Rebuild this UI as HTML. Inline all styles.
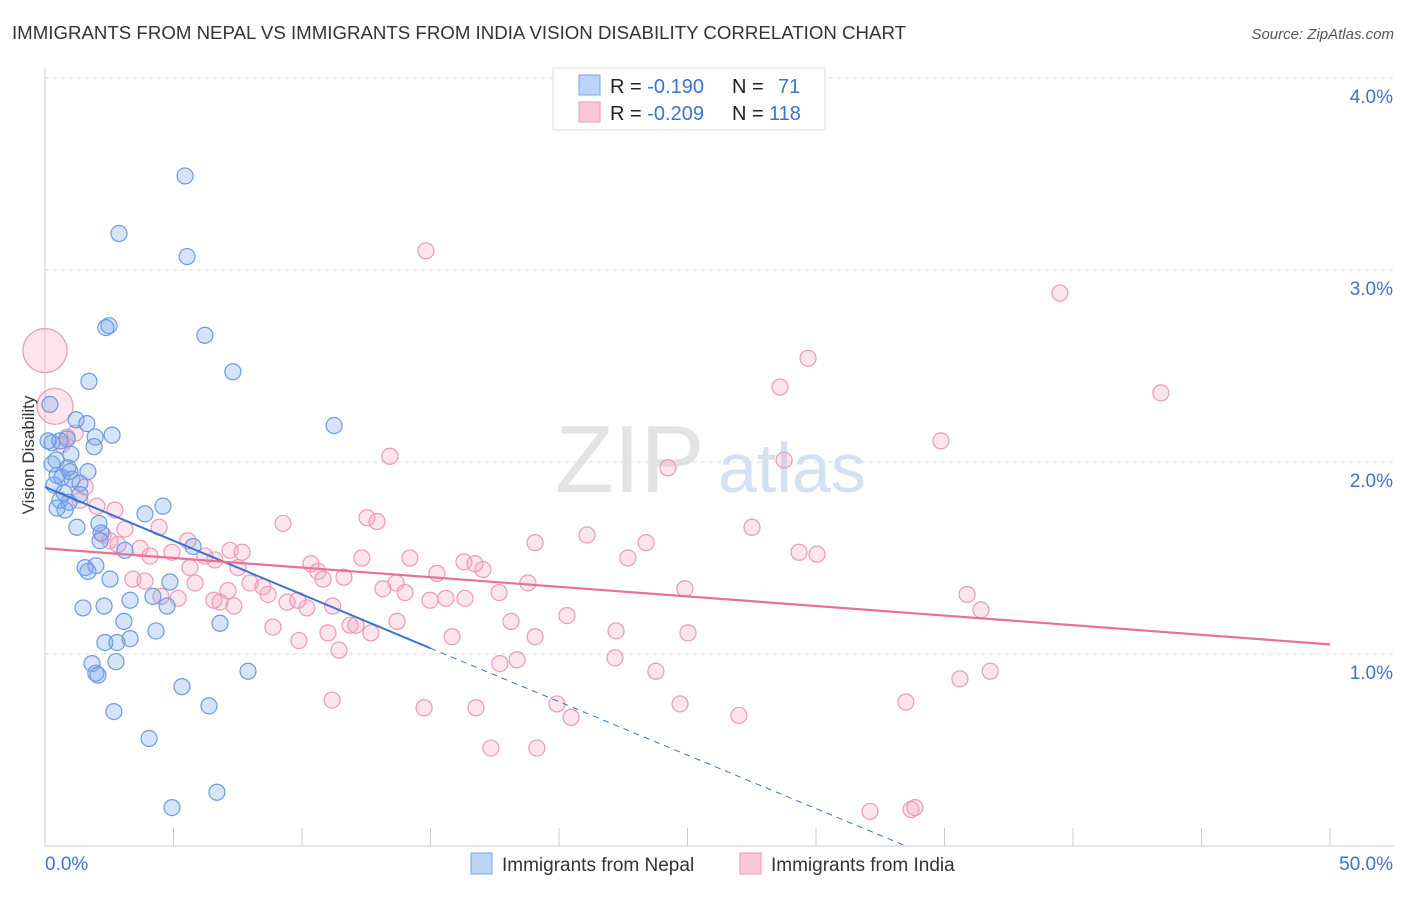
<!DOCTYPE html>
<html><head><meta charset="utf-8"><style>
body{margin:0;background:#fff;font-family:"Liberation Sans",sans-serif;}
svg text{font-family:"Liberation Sans",sans-serif;}
</style></head><body>
<svg id="chart" width="1406" height="892" xmlns="http://www.w3.org/2000/svg">
<text x="12" y="39" font-size="18" fill="#333" textLength="894" lengthAdjust="spacingAndGlyphs">IMMIGRANTS FROM NEPAL VS IMMIGRANTS FROM INDIA VISION DISABILITY CORRELATION CHART</text>
<text x="1394" y="39" font-size="15" fill="#555" font-style="italic" text-anchor="end">Source: ZipAtlas.com</text>
<text x="555" y="492" font-size="96" fill="#e3e3e3" font-family="Liberation Serif">ZIP</text>
<text x="718" y="492" font-size="70" fill="#d3e1f3">atlas</text>
<g id="grid"></g>
<g id="pts"></g>
<g id="lines"></g>
<text x="34" y="455" font-size="17" fill="#333" transform="rotate(-90 34 455)" text-anchor="middle">Vision Disability</text>
<g>
<rect x="553" y="68" width="272" height="62" fill="#fff" stroke="#ddd"/>
<rect x="579" y="75" width="21" height="20" fill="#bcd4f5" stroke="#7aa6e6"/>
<rect x="579" y="102" width="21" height="20" fill="#fac8d8" stroke="#ee9ab5"/>
<text x="610" y="93" font-size="20" fill="#222">R = <tspan fill="#3a74d0">-0.190</tspan><tspan x="732">N = </tspan><tspan x="778" fill="#3a74d0">71</tspan></text>
<text x="610" y="120" font-size="20" fill="#222">R = <tspan fill="#3a74d0">-0.209</tspan><tspan x="732">N = </tspan><tspan x="769" fill="#3a74d0">118</tspan></text>
</g>
<g>
<rect x="471" y="853" width="21" height="21" fill="#bcd4f5" stroke="#7aa6e6"/>
<text x="502" y="871" font-size="19" fill="#333">Immigrants from Nepal</text>
<rect x="740" y="853" width="21" height="21" fill="#fac8d8" stroke="#ee9ab5"/>
<text x="771" y="871" font-size="19" fill="#333">Immigrants from India</text>
</g>
</svg>
<script>
const yTicks=[1,2,3,4];
const xTickLabels=["0.0%","50.0%"];
const nepalX=[5.45,2.88,5.53,2.49,2.37,6.22,7.31,1.71,11.25,0.19,1.21,1.63,2.61,1.95,0.86,0.58,1.91,0.27,1.01,0.43,0.89,1.67,0.47,0.66,1.05,0.35,1.36,0.74,0.93,0.47,4.59,3.89,1.24,2.10,2.18,3.11,5.76,1.56,1.98,1.67,4.86,4.20,4.75,1.48,2.30,3.07,6.81,4.32,3.31,2.33,2.80,1.83,2.76,1.98,2.06,7.90,5.33,6.38,2.68,4.05,4.94,6.69,0.27,0.12,0.58,1.36,0.97,2.14,0.78,3.31,2.53];
const nepalY=[3.49,3.19,3.07,2.71,2.70,2.66,2.47,2.42,2.19,2.30,2.22,2.20,2.14,2.13,2.12,2.11,2.08,2.10,2.04,2.01,1.97,1.95,1.93,1.92,1.91,1.88,1.89,1.84,1.79,1.76,1.77,1.73,1.66,1.68,1.63,1.54,1.56,1.45,1.46,1.43,1.375,1.30,1.25,1.24,1.25,1.17,1.16,1.12,1.08,1.06,1.06,0.95,0.96,0.90,0.89,0.91,0.83,0.73,0.70,0.56,0.20,0.28,1.99,2.11,1.80,1.83,1.95,1.59,1.75,1.28,1.39];
const indiaX=[14.82,39.49,29.69,28.60,43.42,34.86,13.42,24.24,28.76,0.39,0,0.86,1.17,0.66,1.56,1.36,2.02,2.72,3.11,2.26,2.84,2.53,3.70,4.09,4.44,5.56,4.94,6.22,7.20,7.67,6.61,7.51,9.26,12.53,12.92,14.20,16.30,16.73,17.04,12.33,10.35,10.62,10.82,11.63,15.25,17.67,18.79,13.66,13.15,14.01,14.98,15.60,16.34,19.07,21.09,22.68,23.39,27.51,29.34,30.04,24.90,35.88,36.42,3.42,4.51,5.84,6.57,6.81,7.35,7.98,8.68,9.42,10.19,11.19,9.84,8.48,11.87,12.10,12.68,11.01,11.44,9.88,8.87,13.70,15.84,18.13,19.07,20.31,22.22,25.02,22.18,23.77,17.70,18.37,11.17,14.75,16.77,19.92,20.47,24.71,27.00,33.50,35.60,36.78,17.35,19.14,32.10,33.70,33.85,5.18,3.89,5.64,7.12];
const indiaY=[3.1,2.88,2.54,2.39,2.36,2.11,2.03,1.97,2.01,2.29,2.58,2.13,2.15,2.09,1.87,1.80,1.77,1.75,1.65,1.62,1.57,1.59,1.55,1.51,1.66,1.59,1.53,1.51,1.54,1.53,1.49,1.45,1.68,1.71,1.69,1.50,1.48,1.47,1.44,1.50,1.47,1.43,1.39,1.40,1.42,1.32,1.37,1.37,1.34,1.32,1.28,1.29,1.29,1.58,1.62,1.50,1.58,1.66,1.53,1.52,1.34,1.31,1.23,1.39,1.30,1.37,1.28,1.27,1.25,1.37,1.31,1.27,1.24,1.25,1.28,1.35,1.15,1.15,1.11,1.11,1.02,1.07,1.14,1.17,1.09,1.17,1.09,1.20,1.12,1.11,0.98,0.91,0.95,0.97,0.76,0.72,0.72,0.74,0.67,0.74,0.68,0.75,0.87,0.91,0.51,0.51,0.18,0.19,0.20,1.29,1.38,1.45,1.33];
const bigIdx={9:18,10:22};
const X0=45,X1=1330,Y0=846,PX=192;
const sx=v=>X0+(X1-X0)*v/50, sy=v=>Y0-v*PX;
const NS="http://www.w3.org/2000/svg";
function mk(t,a,parent){const e=document.createElementNS(NS,t);for(const k in a)e.setAttribute(k,a[k]);parent.appendChild(e);return e;}
const grid=document.getElementById('grid');
mk('line',{x1:45,y1:68,x2:45,y2:846,stroke:'#ccc'},grid);
mk('line',{x1:45,y1:846,x2:1394,y2:846,stroke:'#ccc'},grid);
yTicks.forEach(t=>{
 const l=mk('line',{x1:45,y1:sy(t),x2:1394,y2:sy(t),stroke:'#ddd','stroke-dasharray':'4,4'},grid);
 
 
 const tx=mk('text',{x:1393,y:sy(t)+25,'font-size':19,fill:'#3a74d0','text-anchor':'end'},grid);
 tx.textContent=t.toFixed(1)+'%';
 
 
});
for(let i=0;i<=10;i++){mk('line',{x1:sx(i*5),y1:828,x2:sx(i*5),y2:846,stroke:'#ccc'},grid);}
const a=mk('text',{x:45,y:870,'font-size':19,fill:'#3a74d0'},grid);a.textContent=xTickLabels[0];


const b=mk('text',{x:1393,y:870,'font-size':19,fill:'#3a74d0','text-anchor':'end'},grid);b.textContent=xTickLabels[1];


const pts=document.getElementById('pts');
indiaX.forEach((x,i)=>{const c=mk('circle',{cx:sx(x),cy:sy(indiaY[i]),r:bigIdx[i]||8,fill:'rgba(244,160,188,0.28)',stroke:'#ec9ab6','stroke-width':1.2},pts);
 
 });
nepalX.forEach((x,i)=>{const c=mk('circle',{cx:sx(x),cy:sy(nepalY[i]),r:8,fill:'rgba(120,165,235,0.3)',stroke:'#6c9be2','stroke-width':1.2},pts);
 
 });
const lines=document.getElementById('lines');
let l1=mk('line',{x1:sx(0),y1:sy(1.87),x2:sx(15),y2:sy(1.03),stroke:'#3a74d0','stroke-width':2},lines);


let l2=mk('line',{x1:sx(15),y1:sy(1.03),x2:sx(33.5),y2:sy(0),stroke:'#3a74d0','stroke-width':1,'stroke-dasharray':'6,5'},lines);


let l3=mk('line',{x1:sx(0),y1:sy(1.55),x2:sx(50),y2:sy(1.05),stroke:'#e8709a','stroke-width':2.2},lines);


</script>
</body></html>
